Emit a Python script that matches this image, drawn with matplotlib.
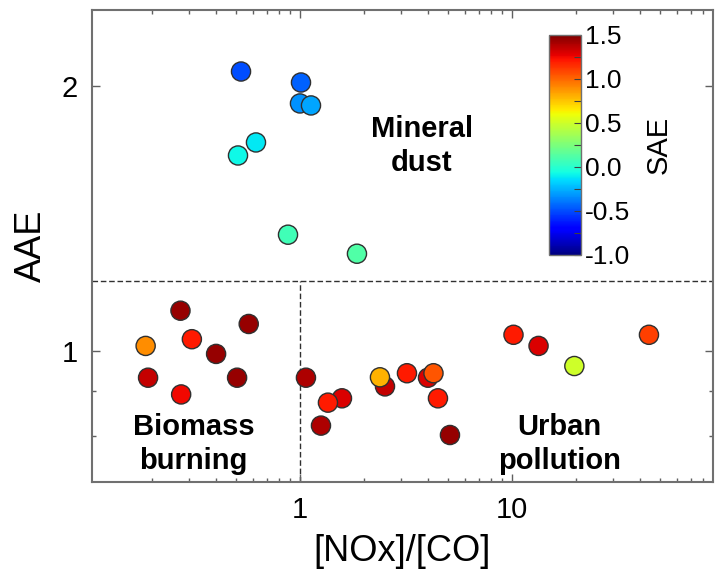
import matplotlib
matplotlib.use("Agg")
import matplotlib.pyplot as plt
import matplotlib.ticker as mticker
import numpy as np

plt.rcParams['font.family'] = ['Liberation Sans', 'DejaVu Sans']

# NOx/CO ratio, AAE and SAE for each point
nox_co = [0.527, 1.011, 1.00, 1.127, 0.620, 0.510, 0.878, 1.857,
          0.273, 0.573, 0.309, 0.187, 0.402, 0.192, 0.505, 0.275,
          1.067, 1.578, 1.355, 1.256, 2.518, 2.384, 3.197, 4.017,
          4.264, 4.477, 5.10, 10.17, 13.35, 19.7, 44.3]
aae = [2.080, 2.021, 1.913, 1.903, 1.727, 1.669, 1.356, 1.290,
       1.111, 1.073, 1.031, 1.013, 0.992, 0.932, 0.932, 0.892,
       0.932, 0.883, 0.873, 0.822, 0.911, 0.933, 0.943, 0.932,
       0.943, 0.883, 0.802, 1.043, 1.013, 0.961, 1.043]
sae = [-0.5, -0.45, -0.33, -0.28, -0.12, -0.08, 0.07, 0.12,
       1.45, 1.45, 1.2, 0.9, 1.45, 1.35, 1.45, 1.25,
       1.4, 1.3, 1.2, 1.4, 1.35, 0.8, 1.2, 1.3,
       1.05, 1.2, 1.45, 1.2, 1.3, 0.5, 1.1]

regions = ["Mineral\ndust", "Biomass\nburning", "Urban\npollution"]
region_x = [3.75, 0.315, 16.7]
region_y = [1.71, 0.783, 0.783]

fig = plt.figure(figsize=(7.22, 5.82), dpi=100)
ax = fig.add_axes([0.1274, 0.1718, 0.8601, 0.8110])

sc = ax.scatter(nox_co, aae, c=sae, cmap='jet', vmin=-1.0, vmax=1.5,
                s=190, edgecolors='#303030', linewidths=1.0, zorder=3)

ax.set_xscale('log')
ax.set_yscale('log')
ax.set_xlim(0.1044, 88.8)
ax.set_ylim(0.709, 2.444)

# dashed region separators
ax.axhline(1.2, color='#303030', linestyle='--', linewidth=1.0, dashes=(4, 2), zorder=1)
ax.plot([1, 1], [0.709, 1.2], color='#303030', linestyle='--', linewidth=1.0,
        dashes=(4, 2), zorder=1)

for txt, tx, ty in zip(regions, region_x, region_y):
    ax.text(tx, ty, txt, ha='center', va='center', fontsize=21,
            fontweight='bold', linespacing=1.25)

ax.xaxis.set_major_locator(mticker.FixedLocator([1, 10]))
ax.xaxis.set_major_formatter(mticker.FixedFormatter(['1', '10']))
ax.xaxis.set_minor_locator(mticker.LogLocator(base=10, subs=np.arange(2, 10)))
ax.xaxis.set_minor_formatter(mticker.NullFormatter())
ax.yaxis.set_major_locator(mticker.FixedLocator([1, 2]))
ax.yaxis.set_major_formatter(mticker.FixedFormatter(['1', '2']))
ax.yaxis.set_minor_locator(mticker.FixedLocator([0.8, 0.9]))
ax.yaxis.set_minor_formatter(mticker.NullFormatter())

ax.tick_params(which='both', direction='in', top=True, right=True,
               color='#606060', width=1.0)
ax.tick_params(which='major', length=6, labelsize=21, pad=10)
ax.tick_params(which='minor', length=3)

for sp in ax.spines.values():
    sp.set_color('#707070')
    sp.set_linewidth(1.5)

ax.set_xlabel('[NOx]/[CO]', fontsize=26, labelpad=7)
ax.set_ylabel('AAE', fontsize=26, labelpad=9)

# colorbar inset
cax = fig.add_axes([0.7604, 0.5619, 0.0443, 0.378])
cb = fig.colorbar(sc, cax=cax)
cb.set_ticks([-1.0, -0.5, 0.0, 0.5, 1.0, 1.5])
cb.set_ticklabels(['-1.0', '-0.5', '0.0', '0.5', '1.0', '1.5'])
cax.yaxis.set_minor_locator(mticker.FixedLocator([-0.75, -0.25, 0.25, 0.75, 1.25]))
cax.tick_params(which='both', direction='in', color='#404040', width=0.8)
cax.tick_params(which='major', length=5, labelsize=19, pad=3)
cax.tick_params(which='minor', length=5)
cb.outline.set_edgecolor('#707070')
cb.outline.set_linewidth(1.0)
cb.set_label('SAE', fontsize=21, labelpad=10)

fig.savefig('out.png', dpi=100)
